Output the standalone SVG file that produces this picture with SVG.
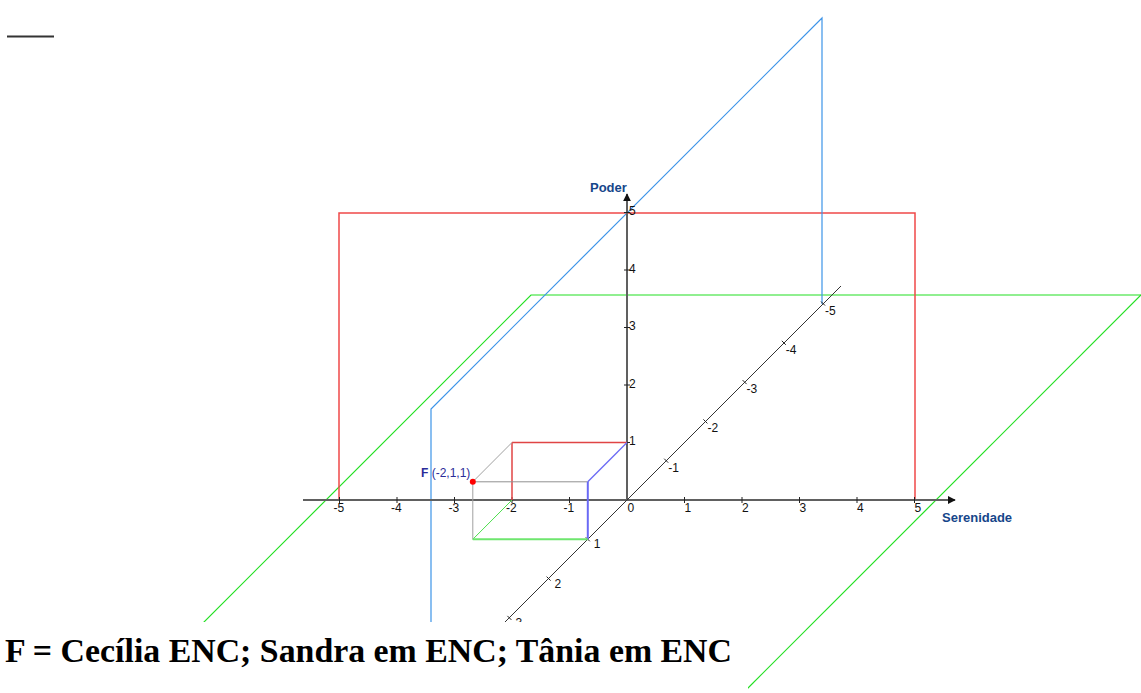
<svg xmlns="http://www.w3.org/2000/svg" width="1141" height="693" viewBox="0 0 1141 693">
<style>
.ax{stroke:#606060;stroke-width:2;fill:none}
.tk{stroke:#222;stroke-width:1;fill:none}
.dg{stroke:#333;stroke-width:1;fill:none}
.lb{font-family:"Liberation Sans",Arial,sans-serif;font-size:12px;fill:#111}
.nm{font-family:"Liberation Sans",Arial,sans-serif;font-size:13px;font-weight:bold;fill:#16468a}
.pr{stroke:#f04848;stroke-width:1.5;fill:none}
.pg{stroke:#22e022;stroke-width:1.2;fill:none}
.pb{stroke:#3d94e8;stroke-width:1.2;fill:none}
</style>
<defs>
<marker id="arr" viewBox="0 0 10 10" refX="9" refY="5" markerWidth="8" markerHeight="8" markerUnits="userSpaceOnUse" orient="auto">
<path d="M0,0 L10,5 L0,10 Z" fill="#111"/>
</marker>
</defs>
<rect width="1141" height="693" fill="#fff"/>
<line x1="7" y1="36.5" x2="54" y2="36.5" stroke="#333" stroke-width="2"/>

<g id="plane-green">
<path class="pg" d="M150,676 L531,295 L1141,295"/>
<path class="pg" d="M1141,295 L745,691"/>
</g>
<g id="plane-red">
<path class="pr" d="M339,500 L339,213 L915,213 L915,500"/>
</g>
<g id="plane-blue">
<path class="pb" d="M431,700 L431,409 L822,18 L822,304"/>
</g>

<g id="connectors">
<line class="ax" x1="303" y1="500" x2="955" y2="500" marker-end="url(#arr)"/>
<line class="ax" x1="627" y1="500" x2="627" y2="194" marker-end="url(#arr)"/>
<line class="dg" x1="841" y1="286" x2="496" y2="631"/>
<g class="tk">
<path d="M339.5,497v6M397,497v6M454.5,497v6M512,497v6M569.5,497v6M684.5,497v6M742,497v6M799.5,497v6M857,497v6M914.5,497v6"/>
<path d="M624,442.5h6M624,385h6M624,327.5h6M624,270h6M624,212.5h6"/>
<path d="M664.2,458.7l4,4M703.4,419.4l4,4M742.6,380.1l4,4M781.8,340.8l4,4M821,301.5l4,4M585.8,537.3l4,4M546.6,576.6l4,4M507.4,615.9l4,4"/>
</g>
</g>

<g id="tick-labels" class="lb">
<text x="333.5" y="512">-5</text>
<text x="391" y="512">-4</text>
<text x="448.5" y="512">-3</text>
<text x="506" y="512">-2</text>
<text x="563.5" y="512">-1</text>
<text x="627.5" y="512">0</text>
<text x="684.5" y="512">1</text>
<text x="742" y="512">2</text>
<text x="799.5" y="512">3</text>
<text x="857" y="512">4</text>
<text x="914.5" y="512">5</text>
<text x="629" y="445">1</text>
<text x="629" y="387.5">2</text>
<text x="629" y="330">3</text>
<text x="629" y="272.5">4</text>
<text x="629" y="215">5</text>
<text x="668.2" y="471.7">-1</text>
<text x="707.4" y="432.4">-2</text>
<text x="746.6" y="393.1">-3</text>
<text x="785.8" y="353.8">-4</text>
<text x="825" y="314.5">-5</text>
<text x="593.8" y="548.3">1</text>
<text x="554.6" y="587.6">2</text>
<text x="515.4" y="626.9">3</text>
</g>

<g id="axis-names">
<text class="nm" x="590" y="192">Poder</text>
<text class="nm" x="942" y="522">Serenidade</text>
</g>

<g id="point-F">
<line x1="512" y1="500" x2="512" y2="442.5" stroke="#e04444" stroke-width="1.5"/>
<line x1="512" y1="442.5" x2="627" y2="442.5" stroke="#e04444" stroke-width="1.5"/>
<line x1="512" y1="442.5" x2="472.8" y2="481.8" stroke="#a0a0a0" stroke-width="1"/>
<line x1="472.8" y1="481.8" x2="587.8" y2="481.8" stroke="#909090" stroke-width="1"/>
<line x1="472.8" y1="481.8" x2="472.8" y2="539.3" stroke="#a0a0a0" stroke-width="1"/>
<line x1="627" y1="442.5" x2="587.8" y2="481.8" stroke="#6a6af5" stroke-width="1.3"/>
<line x1="587.8" y1="481.8" x2="587.8" y2="539.3" stroke="#6a6af5" stroke-width="2"/>
<line x1="512" y1="500" x2="472.8" y2="539.3" stroke="#4de04d" stroke-width="1"/>
<line x1="472.8" y1="539.3" x2="587.8" y2="539.3" stroke="#6ee66e" stroke-width="2"/>
<circle cx="472.8" cy="481.8" r="3" fill="#f00"/>
<text x="421" y="477" font-family="'Liberation Sans',Arial,sans-serif" font-size="12" fill="#2b2b99"><tspan font-weight="bold">F</tspan> (-2,1,1)</text>
</g>

<rect x="0" y="622" width="748" height="71" fill="#fff"/>
<g id="caption">
<text x="5" y="662" font-family="'Liberation Serif','Times New Roman',serif" font-size="33" font-weight="bold" fill="#000" textLength="727" lengthAdjust="spacingAndGlyphs">F = Cecília ENC; Sandra em ENC; Tânia em ENC</text>
</g>
</svg>
